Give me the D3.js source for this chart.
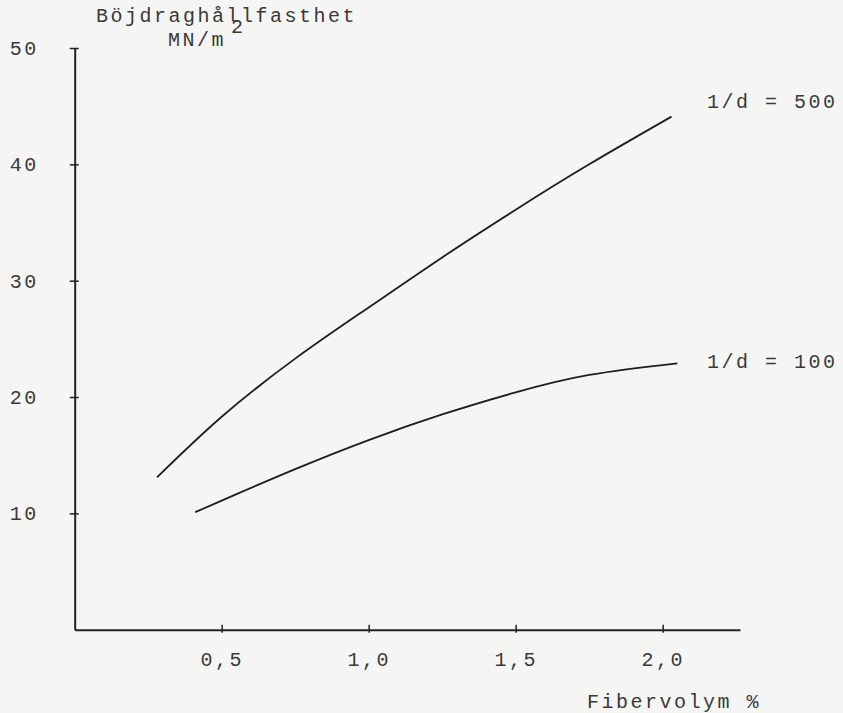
<!DOCTYPE html>
<html>
<head>
<meta charset="utf-8">
<script src="https://cdn.jsdelivr.net/npm/d3@7"></script>
<style>
  body { margin: 0; background: #f5f5f3; }
  svg { display: block; }
  text { font-family: "Liberation Mono", "DejaVu Sans Mono", monospace; fill: #3a3a3a; }
</style>
</head>
<body>
<svg id="chart"></svg>
<script>
// values
const xTicks = [0.5, 1.0, 1.5, 2.0];
const yTicks = [10, 20, 30, 40, 50];

const ld500 = [[0.28, 13.1], [0.5, 18.3], [0.75, 23.3], [1.0, 27.7], [1.25, 32.0], [1.5, 36.1], [1.75, 40.0], [2.03, 44.1]];
const ld100 = [[0.41, 10.1], [0.5, 11.1], [0.75, 13.8], [1.0, 16.3], [1.25, 18.5], [1.5, 20.4], [1.75, 21.9], [2.05, 22.9]];

const seriesLabels = ["1/d = 500", "1/d = 100"];

const width = 843, height = 713;
const svg = d3.select("#chart").attr("width", width).attr("height", height);

const x = d3.scaleLinear().domain([0, 2.263]).range([74.7, 740]);
const y = d3.scaleLinear().domain([0, 50]).range([629.7, 48]);

const fmt = v => d3.format(".1f")(v).replace(".", ",");

// x axis
const gx = svg.append("g")
  .attr("transform", `translate(0,${y(0)})`)
  .call(d3.axisBottom(x).tickValues(xTicks).tickSize(0).tickFormat(fmt).tickPadding(22));
gx.select(".domain").attr("stroke", "#222").attr("stroke-width", 2);
gx.selectAll(".tick line").attr("y1", -5).attr("y2", 3).attr("stroke", "#222").attr("stroke-width", 1.5);
gx.selectAll(".tick text").attr("font-size", 20).attr("letter-spacing", 2.5)
  .attr("font-family", "Liberation Mono").attr("fill", "#3a3a3a");

// y axis
const gy = svg.append("g")
  .attr("transform", `translate(${x(0)},0)`)
  .call(d3.axisLeft(y).tickValues(yTicks).tickSize(0));
gy.select(".domain").attr("stroke", "#222").attr("stroke-width", 2);
gy.selectAll(".tick line").attr("x1", -5).attr("x2", 4).attr("stroke", "#222").attr("stroke-width", 1.5);
gy.selectAll(".tick text").attr("font-size", 20).attr("letter-spacing", 2.5)
  .attr("text-anchor", "start").attr("x", -65)
  .attr("font-family", "Liberation Mono").attr("fill", "#3a3a3a");

// curves
const line = d3.line().x(d => x(d[0])).y(d => y(d[1])).curve(d3.curveNatural);
[ld500, ld100].forEach(s => {
  svg.append("path").datum(s)
    .attr("d", line)
    .attr("fill", "none").attr("stroke", "#1e1e1e").attr("stroke-width", 1.8);
});

// series labels, beside the curve ends
const labelShift = [-9, 5];
[ld500, ld100].forEach((s, i) => {
  const last = s[s.length - 1];
  svg.append("text")
    .attr("x", 707).attr("y", y(last[1]) + labelShift[i])
    .attr("font-size", 20).attr("letter-spacing", 2.5)
    .text(seriesLabels[i]);
});

// axis titles
svg.append("text").attr("x", 96).attr("y", 22)
  .attr("font-size", 20).attr("letter-spacing", 2.5)
  .text("Böjdraghållfasthet");
svg.append("text").attr("x", 168).attr("y", 46)
  .attr("font-size", 20).attr("letter-spacing", 2.5)
  .text("MN/m");
svg.append("text").attr("x", 231).attr("y", 33)
  .attr("font-size", 20)
  .text("2");
svg.append("text").attr("x", 587).attr("y", 708)
  .attr("font-size", 20).attr("letter-spacing", 2.5)
  .text("Fibervolym %");
</script>
</body>
</html>
